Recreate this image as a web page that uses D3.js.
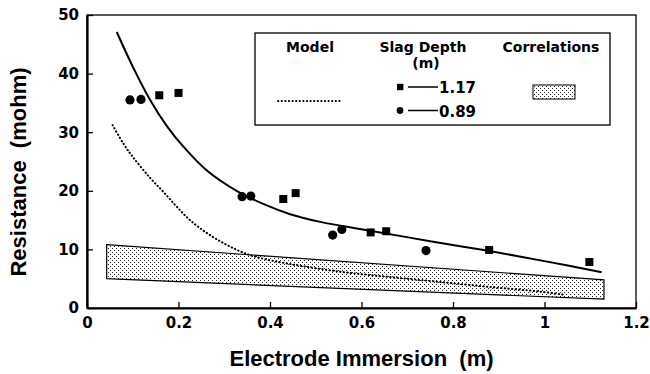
<!DOCTYPE html>
<html><head><meta charset="utf-8">
<script src="https://cdn.jsdelivr.net/npm/d3@7"></script>
<style>
html,body{margin:0;padding:0;background:#fff;}
svg{display:block;}
</style>
</head><body>
<svg id="chart" width="650" height="374"></svg>
<script>
// ---- data ----
const xTicks = [0, 0.2, 0.4, 0.6, 0.8, 1, 1.2];
const yTicks = [0, 10, 20, 30, 40, 50];
// measured points, slag depth 1.17 m (squares)
const sq117X = [0.158, 0.200, 0.429, 0.456, 0.620, 0.654, 0.879, 1.098];
const sq117Y = [36.3, 36.7, 18.6, 19.6, 12.9, 13.1, 9.9, 7.85];
// measured points, slag depth 0.89 m (circles)
const ci089X = [0.094, 0.118, 0.339, 0.358, 0.537, 0.557, 0.741];
const ci089Y = [35.5, 35.6, 19.0, 19.1, 12.45, 13.4, 9.8];
// solid fitted curve
const fitX = [0.065, 0.10, 0.138, 0.175, 0.21, 0.26, 0.327, 0.393, 0.444, 0.51, 0.619, 0.75, 0.874, 1.0, 1.125];
const fitY = [47.1, 41.2, 35.5, 31.0, 27.6, 23.6, 20.0, 17.5, 16.0, 14.7, 13.2, 11.4, 9.8, 8.0, 6.1];
// dotted model curve
const modelX = [0.056, 0.08, 0.10, 0.138, 0.167, 0.196, 0.225, 0.262, 0.30, 0.334, 0.37, 0.444, 0.553, 0.66, 0.764, 0.88, 0.99, 1.04];
const modelY = [31.2, 28.0, 25.8, 22.2, 19.8, 17.3, 15.0, 12.8, 11.0, 9.7, 8.7, 7.5, 6.2, 5.3, 4.5, 3.6, 2.8, 2.3];
// correlations band
const bandX = [0.043, 1.13];
const bandTop = [10.8, 4.8];
const bandBottom = [5.0, 1.5];
const legendDepths = ["1.17", "0.89"];

// ---- drawing ----
const svg = d3.select("#chart");
const x = d3.scaleLinear().domain([0, 1.2]).range([87, 636]);
const y = d3.scaleLinear().domain([0, 50]).range([308, 15]);
const tickFont = "'DejaVu Sans', sans-serif";
const titleFont = "'Liberation Sans', Arial, sans-serif";

const defs = svg.append("defs");
const pat = defs.append("pattern").attr("id", "stipple")
  .attr("patternUnits", "userSpaceOnUse").attr("width", 4).attr("height", 4);
pat.append("rect").attr("width", 4).attr("height", 4).attr("fill", "#fff");
pat.append("rect").attr("x", 0).attr("y", 0).attr("width", 1).attr("height", 1).attr("fill", "#222");
pat.append("rect").attr("x", 2).attr("y", 2).attr("width", 1).attr("height", 1).attr("fill", "#222");

// band
const bandPts = bandX.map((v, i) => [v, bandTop[i]])
  .concat(bandX.map((v, i) => [v, bandBottom[i]]).reverse());
svg.append("path")
  .attr("d", d3.line().x(d => x(d[0])).y(d => y(d[1]))(bandPts) + "Z")
  .attr("fill", "url(#stipple)").attr("stroke", "#000").attr("stroke-width", 1.2);

// frame
svg.append("rect").attr("x", x(0)).attr("y", y(50)).attr("width", x(1.2) - x(0)).attr("height", y(0) - y(50))
  .attr("fill", "none").attr("stroke", "#000").attr("stroke-width", 1.3);

// axes
const xAxis = svg.append("g").attr("transform", `translate(0,${y(0)})`)
  .call(d3.axisBottom(x).tickValues(xTicks).tickSizeInner(-6).tickSizeOuter(0).tickPadding(9).tickFormat(d3.format("")));
const yAxis = svg.append("g").attr("transform", `translate(${x(0)},0)`)
  .call(d3.axisLeft(y).tickValues(yTicks).tickSizeInner(-6).tickSizeOuter(0).tickPadding(8));
[xAxis, yAxis].forEach(g => {
  g.select(".domain").attr("stroke", "#000").attr("stroke-width", 2.2);
  g.selectAll(".tick line").attr("stroke", "#000").attr("stroke-width", 1.3);
  g.selectAll(".tick text").attr("fill", "#000").attr("font-family", tickFont)
    .attr("font-weight", "bold").attr("font-size", 15);
});

// curves
const smooth = d3.curveCatmullRom.alpha(0.5);
svg.append("path")
  .attr("d", d3.line().curve(smooth).x((d, i) => x(fitX[i])).y((d, i) => y(fitY[i]))(fitX))
  .attr("fill", "none").attr("stroke", "#000").attr("stroke-width", 2);
svg.append("path")
  .attr("d", d3.line().curve(smooth).x((d, i) => x(modelX[i])).y((d, i) => y(modelY[i]))(modelX))
  .attr("fill", "none").attr("stroke", "#000").attr("stroke-width", 2)
  .attr("stroke-dasharray", "0.4,3.2").attr("stroke-linecap", "round");

// markers
svg.append("g").selectAll("rect").data(sq117X).join("rect")
  .attr("x", (d) => x(d) - 4).attr("y", (d, i) => y(sq117Y[i]) - 4)
  .attr("width", 8).attr("height", 8).attr("fill", "#000");
svg.append("g").selectAll("circle").data(ci089X).join("circle")
  .attr("cx", d => x(d)).attr("cy", (d, i) => y(ci089Y[i])).attr("r", 4.6).attr("fill", "#000");

// axis titles
svg.append("text").attr("x", (x(0) + x(1.2)) / 2).attr("y", 366).attr("text-anchor", "middle")
  .attr("font-family", titleFont).attr("font-weight", "bold").attr("font-size", 22)
  .attr("xml:space", "preserve").text("Electrode Immersion  (m)");
svg.append("text").attr("transform", "translate(26,172) rotate(-90)").attr("text-anchor", "middle")
  .attr("font-family", titleFont).attr("font-weight", "bold").attr("font-size", 22)
  .attr("xml:space", "preserve").text("Resistance  (mohm)");

// legend
const lg = svg.append("g");
lg.append("rect").attr("x", 255).attr("y", 33).attr("width", 355).attr("height", 92)
  .attr("fill", "#fff").attr("stroke", "#000").attr("stroke-width", 1.3);
const lt = (tx, ty, s, anchor) => lg.append("text").attr("x", tx).attr("y", ty)
  .attr("text-anchor", anchor || "middle").attr("font-family", tickFont).attr("font-weight", "bold")
  .attr("font-size", 14).attr("fill", "#000").text(s);
lt(310, 51.5, "Model");
lt(423, 51.5, "Slag Depth");
lt(426, 67.5, "(m)");
lt(551, 51.5, "Correlations");
lg.append("line").attr("x1", 278).attr("x2", 342).attr("y1", 101).attr("y2", 101)
  .attr("stroke", "#000").attr("stroke-width", 1.8).attr("stroke-dasharray", "0.4,3.2").attr("stroke-linecap", "round");
const rowY = [87, 110.5];
lg.append("rect").attr("x", 397).attr("y", rowY[0] - 3.2).attr("width", 6.4).attr("height", 6.4).attr("fill", "#000");
lg.append("circle").attr("cx", 400).attr("cy", rowY[1]).attr("r", 3.4).attr("fill", "#000");
legendDepths.forEach((s, i) => {
  lg.append("line").attr("x1", 408).attr("x2", 438).attr("y1", rowY[i]).attr("y2", rowY[i])
    .attr("stroke", "#000").attr("stroke-width", 1.5);
  lg.append("text").attr("x", 439).attr("y", rowY[i] + 6).attr("font-family", tickFont)
    .attr("font-weight", "bold").attr("font-size", 15).attr("fill", "#000").text(s);
});
lg.append("rect").attr("x", 533).attr("y", 85).attr("width", 42).attr("height", 14)
  .attr("fill", "url(#stipple)").attr("stroke", "#000").attr("stroke-width", 1);
</script>
</body></html>
